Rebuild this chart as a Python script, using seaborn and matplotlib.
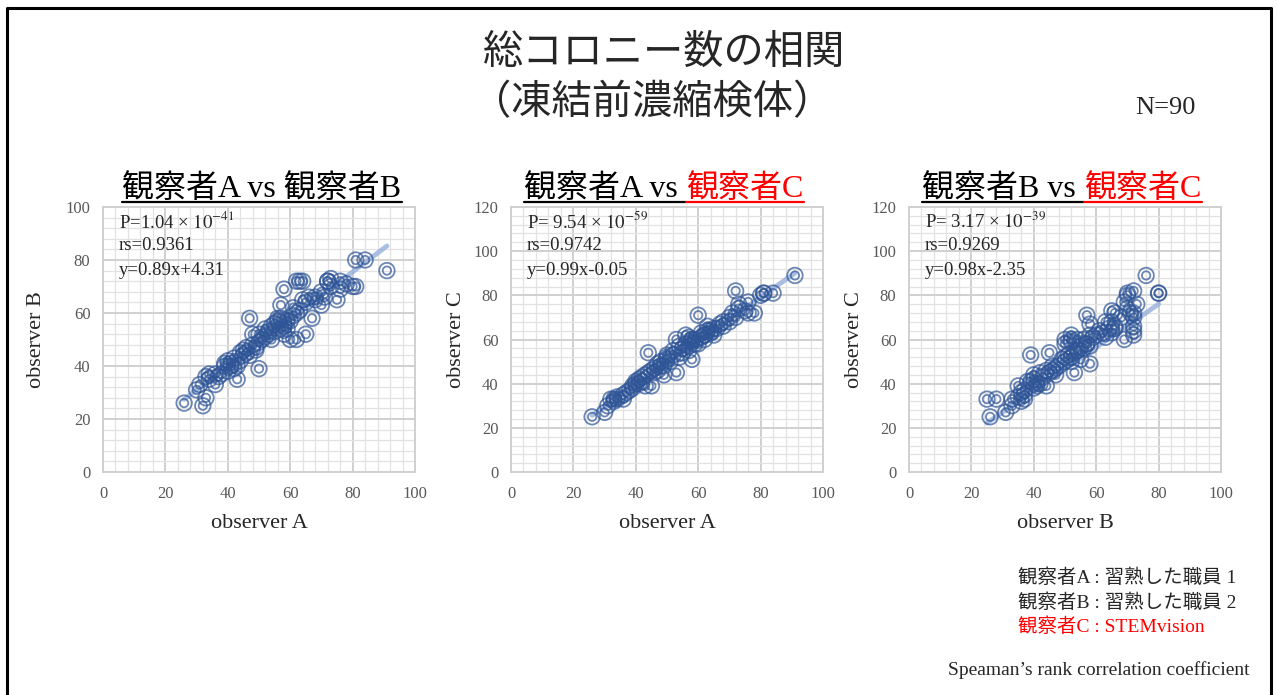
import matplotlib
matplotlib.use('Agg')
import matplotlib.pyplot as plt
import seaborn as sns
from matplotlib.lines import Line2D
from matplotlib.ticker import MultipleLocator

# %%
# colony counts per sample (N=90)
obs_a = [26, 32, 33, 30, 31, 33, 34, 36, 37, 34,
         38, 39, 40, 40, 41, 41, 42, 42, 43, 43,
         44, 45, 44, 45, 46, 46, 47, 47, 48, 48,
         49, 50, 50, 50, 51, 52, 52, 53, 53, 54,
         55, 55, 56, 57, 57, 58, 58, 58, 59, 58,
         59, 60, 60, 61, 62, 62, 63, 64, 61, 62,
         64, 65, 65, 67, 66, 68, 68, 70, 70, 71,
         72, 72, 73, 73, 75, 76, 76, 78, 80, 81,
         81, 84, 91, 56, 54, 49, 57, 39, 36, 63]
obs_b = [26, 25, 28, 31, 33, 36, 37, 33, 36, 35,
         37, 40, 42, 38, 40, 41, 39, 43, 40, 35,
         45, 44, 42, 46, 45, 47, 58, 44, 52, 48,
         47, 39, 52, 49, 50, 51, 54, 53, 52, 55,
         56, 53, 57, 58, 54, 55, 56, 52, 54, 69,
         57, 50, 57, 59, 50, 72, 72, 72, 62, 60,
         65, 52, 64, 58, 66, 66, 65, 63, 68, 66,
         72, 72, 73, 70, 65, 69, 72, 71, 70, 70,
         80, 80, 76, 58, 50, 46, 63, 41, 37, 61]
obs_c = [25, 33, 33, 27, 30, 32, 33, 33, 36, 34,
         37, 38, 40, 41, 42, 40, 41, 43, 44, 39,
         54, 39, 45, 46, 45, 47, 49, 46, 50, 48,
         44, 53, 52, 51, 50, 53, 55, 45, 60, 57,
         56, 54, 58, 57, 55, 51, 60, 59, 60, 60,
         58, 58, 71, 61, 60, 62, 66, 64, 63, 62,
         63, 62, 65, 67, 65, 66, 68, 68, 70, 72,
         82, 70, 76, 74, 73, 77, 72, 72, 80, 81,
         81, 81, 89, 62, 52, 48, 61, 39, 35, 64]

observers = {'A': obs_a, 'B': obs_b, 'C': obs_c}
pairs = [('A', 'B'), ('A', 'C'), ('B', 'C')]

p_labels = ['P=1.04 × $10^{-41}$', 'P= 9.54 × $10^{-59}$', 'P= 3.17 × $10^{-39}$']
rs_labels = ['rs=0.9361', 'rs=0.9742', 'rs=0.9269']
eq_labels = ['y=0.89x+4.31', 'y=0.99x-0.05', 'y=0.98x-2.35']
slopes = [0.89, 0.99, 0.98]
intercepts = [4.31, -0.05, -2.35]
y_max = [100, 120, 120]

title_left = ['観察者A vs 観察者B', '観察者A vs', '観察者B vs']
title_right = ['', '観察者C', '観察者C']

legend_lines = ['観察者A : 習熟した職員 1', '観察者B : 習熟した職員 2', '観察者C : STEMvision']

# %%
sns.set_style('white')
plt.rcParams['font.family'] = ['Liberation Serif', 'Noto Sans CJK JP']
plt.rcParams['mathtext.fontset'] = 'stix'

W, H = 1277, 695
fig = plt.figure(figsize=(W / 100, H / 100), dpi=100)

blue = '#2f5597'
red = '#ff0000'
lefts = [103, 511, 909]
ylab_x = [-0.183, -0.144, -0.144]

for i, (xo, yo) in enumerate(pairs):
    ax = fig.add_axes([lefts[i] / W, 1 - 472 / H, 312 / W, 265 / H])
    x = observers[xo]
    y = observers[yo]

    # trend line from the reported regression
    xs = [min(x), max(x)]
    ys = [slopes[i] * v + intercepts[i] for v in xs]
    sns.lineplot(x=xs, y=ys, ax=ax, color='#8eaad8', lw=3.5, alpha=0.75, zorder=2)

    # double-ring markers like Excel
    sns.scatterplot(x=x, y=y, ax=ax, s=125, marker='o', facecolor='none',
                    edgecolor=blue, linewidth=1.3, alpha=0.7, zorder=3)
    sns.scatterplot(x=x, y=y, ax=ax, s=36, marker='o', facecolor='none',
                    edgecolor=blue, linewidth=1.3, alpha=0.7, zorder=3)

    ax.set_xlim(0, 100)
    ax.set_ylim(0, y_max[i])
    ax.xaxis.set_major_locator(MultipleLocator(20))
    ax.xaxis.set_minor_locator(MultipleLocator(4))
    ax.yaxis.set_major_locator(MultipleLocator(20))
    ax.yaxis.set_minor_locator(MultipleLocator(4))
    ax.grid(which='major', color='#d0d0d0', lw=1.4)
    ax.grid(which='minor', color='#e2e2e2', lw=0.9)
    ax.set_axisbelow(True)
    ax.tick_params(which='both', length=0, labelsize=12, labelcolor='#595959')
    ax.tick_params(axis='x', pad=10)
    ax.tick_params(axis='y', pad=9)
    for sp in ax.spines.values():
        sp.set_color('#d0d0d0')
        sp.set_linewidth(1.4)

    ax.set_xlabel(f'observer {xo}', fontsize=16, color='#262626')
    ax.set_ylabel(f'observer {yo}', fontsize=16, color='#262626')
    ax.xaxis.set_label_coords(0.5, -0.16)
    ax.yaxis.set_label_coords(ylab_x[i], 0.5)

    ax.text(0.05, 0.945, p_labels[i], transform=ax.transAxes, fontsize=13.5,
            va='center', color='#262626')
    ax.text(0.05, 0.853, rs_labels[i], transform=ax.transAxes, fontsize=13.5,
            va='center', color='#262626')
    ax.text(0.05, 0.76, eq_labels[i], transform=ax.transAxes, fontsize=13.5,
            va='center', color='#262626')

# %%
# titles
fig.text(664 / W, 1 - 52 / H, '総コロニー数の相関', fontsize=29, ha='center',
         va='center', family='Noto Sans CJK JP')
fig.text(652 / W, 1 - 103 / H, '（凍結前濃縮検体）', fontsize=29, ha='center',
         va='center', family='Noto Sans CJK JP')
fig.text(1165 / W, 1 - 108 / H, 'N=90', fontsize=19, ha='center', va='center')

# panel titles with underline, second part in red
fig.canvas.draw()
renderer = fig.canvas.get_renderer()
centers = [262, 664, 1062]
base_y = 1 - 197 / H
line_y = 1 - 202 / H
gap = 8
for i in range(3):
    t1 = fig.text(0, base_y, title_left[i], fontsize=23, va='baseline', color='black')
    w1 = t1.get_window_extent(renderer).width
    w2 = 0
    t2 = None
    if title_right[i]:
        t2 = fig.text(0, base_y, title_right[i], fontsize=23, va='baseline', color=red)
        w2 = t2.get_window_extent(renderer).width + gap
    start = centers[i] - (w1 + w2) / 2
    t1.set_x(start / W)
    fig.add_artist(Line2D([start / W, (start + w1 + (gap if t2 else 0)) / W], [line_y, line_y],
                          transform=fig.transFigure, color='black', lw=1.6))
    if t2 is not None:
        s2 = start + w1 + gap
        t2.set_x(s2 / W)
        fig.add_artist(Line2D([s2 / W, (s2 + w2 - gap) / W], [line_y, line_y],
                              transform=fig.transFigure, color=red, lw=1.6))

# bottom right notes
for j, txt in enumerate(legend_lines):
    fig.text(1018 / W, 1 - (578 + 24.5 * j) / H, txt, fontsize=14, va='center',
             color=red if j == 2 else '#262626')
fig.text(1250 / W, 1 - 670 / H, 'Speaman’s rank correlation coefficient', fontsize=14,
         ha='right', va='center', color='#262626')

# slide frame (left, top, right)
fx0, fx1, fy1 = 7 / W, 1271 / W, 1 - 8 / H
fig.add_artist(Line2D([fx0, fx0, fx1, fx1], [0, fy1, fy1, 0], transform=fig.transFigure,
                      color='black', lw=2.2))

fig.savefig('out.png', dpi=100)
